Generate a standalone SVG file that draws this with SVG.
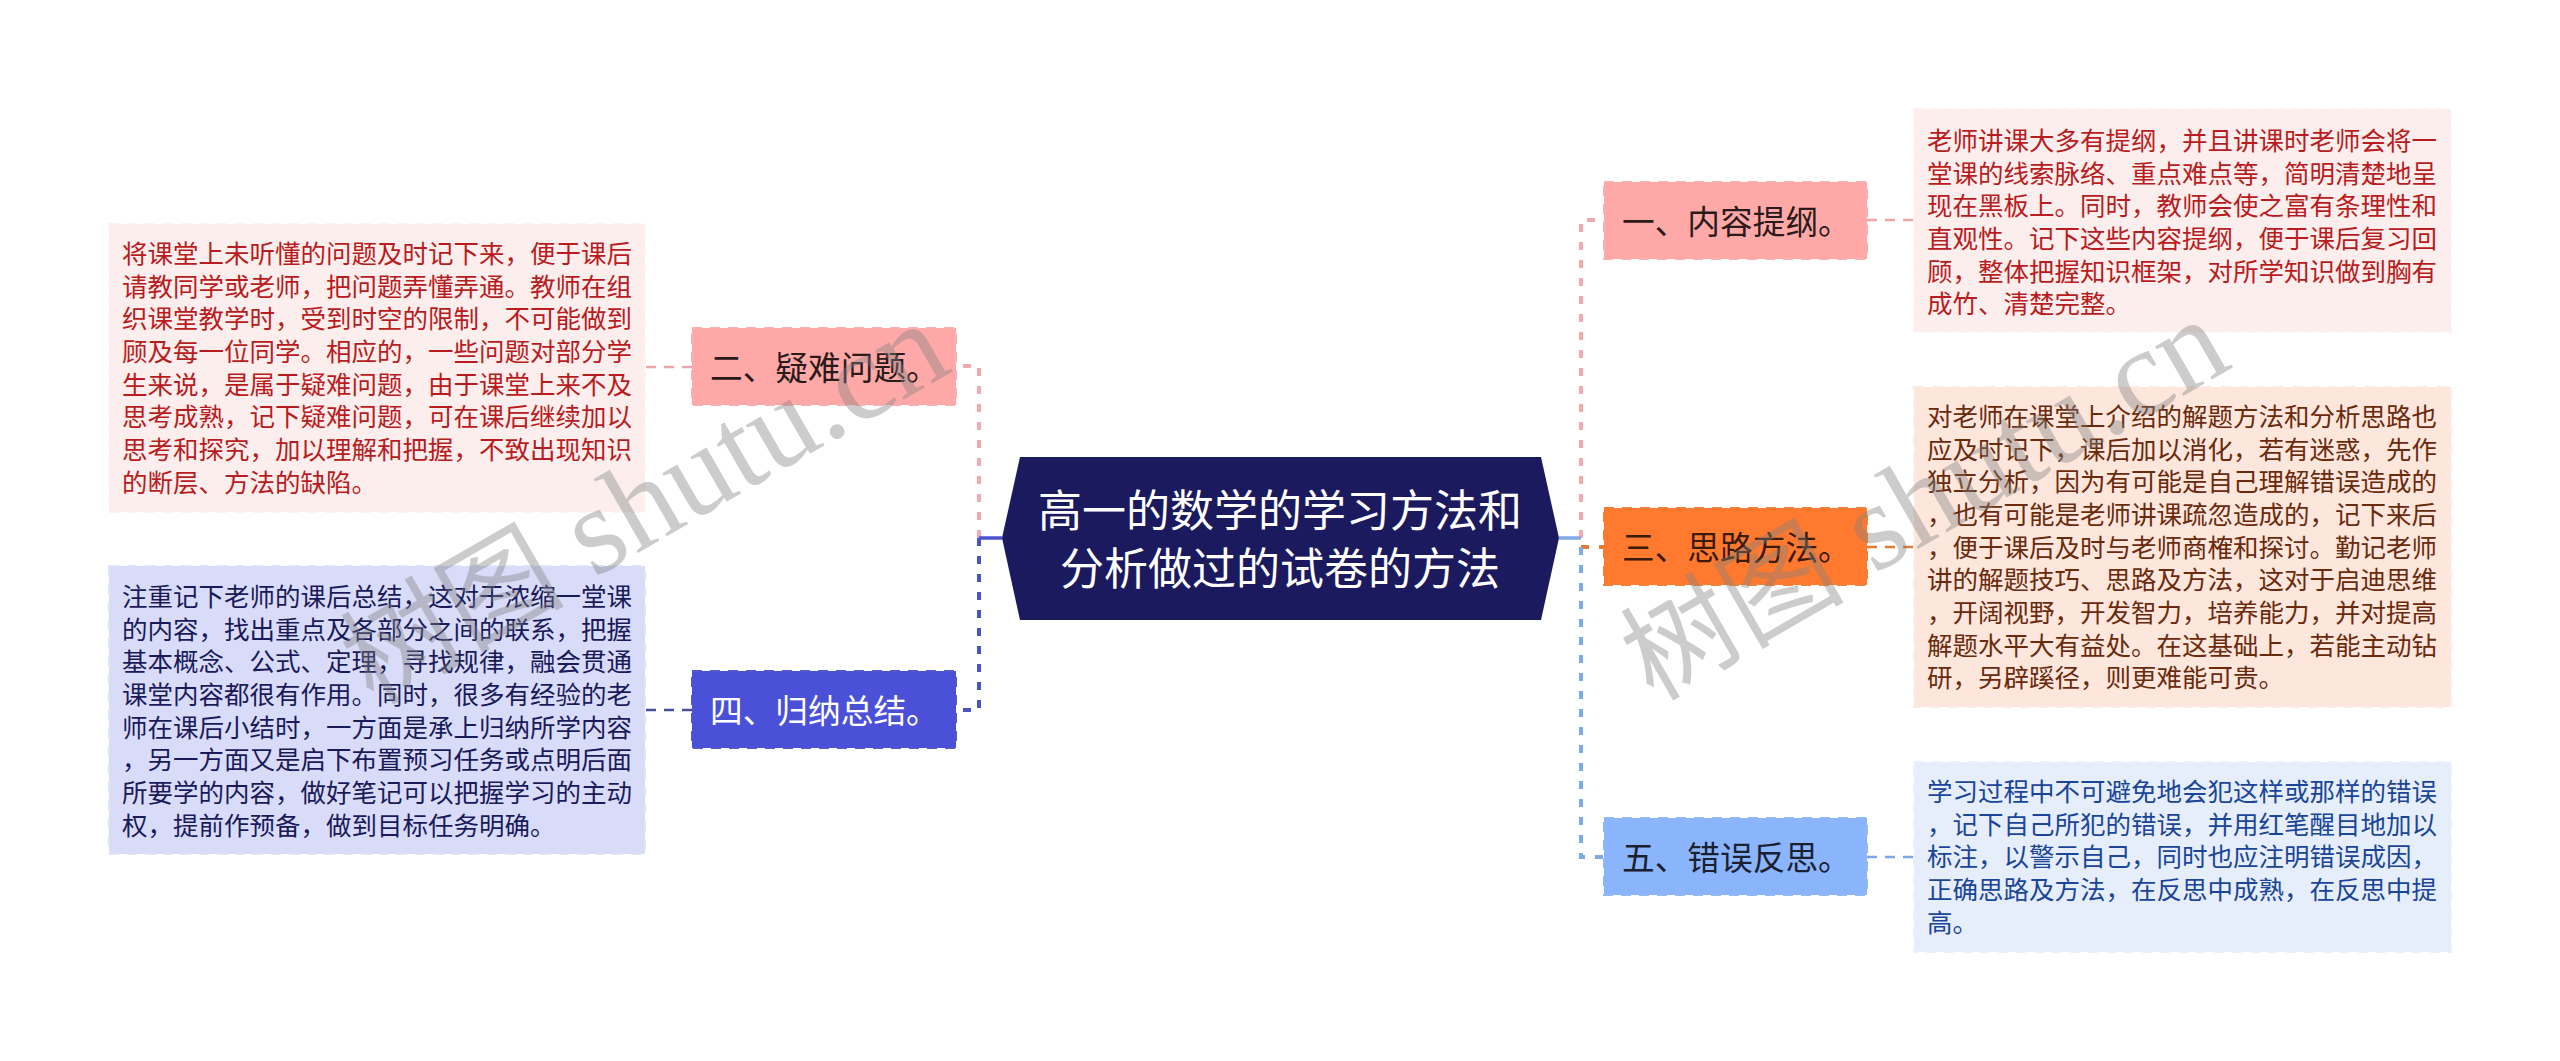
<svg xmlns="http://www.w3.org/2000/svg" width="2560" height="1061" viewBox="0 0 2560 1061">
<style>
text{font-family:"Noto Sans CJK SC","Noto Sans",sans-serif}
.d{font-size:25.5px}
.n{font-size:32.7px}
.t{font-size:44px;fill:#fff;text-anchor:middle}
.box{stroke-width:2;stroke-dasharray:10 8}
.c{fill:none;stroke-width:4;stroke-dasharray:8 10}
.f{fill:none;stroke-width:2.5;stroke-dasharray:10 8}
.w{font-family:"Liberation Serif","Noto Sans CJK SC",serif;font-size:124px;fill:#808080;fill-opacity:.4}
.wc{font-size:112px}
</style>
<rect width="2560" height="1061" fill="#fff"/>
<g id="connectors">
<path class="c" stroke="#f0a9ae" d="M979 538V366H956"/>
<path class="c" stroke="#4a52c4" d="M979 538V710H956"/>
<path d="M1002 538H979" fill="none" stroke="#4a52d0" stroke-width="3.5"/>
<path class="c" stroke="#f0a9ae" d="M1581 538V220H1604"/>
<path class="c" stroke="#e07c36" d="M1581 547H1604"/>
<path class="c" stroke="#7ea9e4" d="M1581 547V857H1604"/>
<path d="M1559 538H1581" fill="none" stroke="#7ea9e4" stroke-width="3.5"/>
<path class="f" stroke="#eda6aa" d="M692 367H645"/>
<path class="f" stroke="#4b4f9a" d="M692 710H645"/>
<path class="f" stroke="#eda6aa" d="M1867 220H1914"/>
<path class="f" stroke="#e07c36" d="M1867 547H1914"/>
<path class="f" stroke="#7ea9e4" d="M1867 857H1914"/>
</g>
<g id="root">
<polygon points="1020,457 1541,457 1559,538 1541,620 1020,620 1002,538" fill="#1c1a5e"/>
<text class="t"><tspan x="1280" y="527">高一的数学的学习方法和</tspan><tspan x="1280" y="585">分析做过的试卷的方法</tspan></text>
</g>
<g id="node2">
<rect class="box" x="692" y="328" width="264" height="77" fill="#ffa8a8" stroke="#f6b0b0"/>
<text class="n" x="710" y="380" fill="#2a1a1a">二、疑难问题。</text>
</g>
<g id="node2-detail">
<rect class="box" x="109" y="224" width="536" height="288" fill="#fdeeee" stroke="#fdf1f1"/>
<text class="d" fill="#b81c20"><tspan x="122" y="263">将课堂上未听懂的问题及时记下来，便于课后</tspan><tspan x="122" y="295.7">请教同学或老师，把问题弄懂弄通。教师在组</tspan><tspan x="122" y="328.4">织课堂教学时，受到时空的限制，不可能做到</tspan><tspan x="122" y="361">顾及每一位同学。相应的，一些问题对部分学</tspan><tspan x="122" y="393.7">生来说，是属于疑难问题，由于课堂上来不及</tspan><tspan x="122" y="426.4">思考成熟，记下疑难问题，可在课后继续加以</tspan><tspan x="122" y="459">思考和探究，加以理解和把握，不致出现知识</tspan><tspan x="122" y="491.7">的断层、方法的缺陷。</tspan></text>
</g>
<g id="node4">
<rect class="box" x="692" y="671" width="264" height="77" fill="#4a50d8" stroke="#5258cc"/>
<text class="n" x="710" y="723" fill="#fff">四、归纳总结。</text>
</g>
<g id="node4-detail">
<rect class="box" x="109" y="566" width="536" height="288" fill="#d9dcf8" stroke="#dfe2f9"/>
<text class="d" fill="#1a1a5a"><tspan x="122" y="606">注重记下老师的课后总结，这对于浓缩一堂课</tspan><tspan x="122" y="638.7">的内容，找出重点及各部分之间的联系，把握</tspan><tspan x="122" y="671.4">基本概念、公式、定理，寻找规律，融会贯通</tspan><tspan x="122" y="704">课堂内容都很有作用。同时，很多有经验的老</tspan><tspan x="122" y="736.7">师在课后小结时，一方面是承上归纳所学内容</tspan><tspan x="122" y="769.4">，另一方面又是启下布置预习任务或点明后面</tspan><tspan x="122" y="802">所要学的内容，做好笔记可以把握学习的主动</tspan><tspan x="122" y="834.7">权，提前作预备，做到目标任务明确。</tspan></text>
</g>
<g id="node1">
<rect class="box" x="1604" y="182" width="263" height="77" fill="#ffa8a8" stroke="#f6b0b0"/>
<text class="n" x="1622" y="234" fill="#2a1a1a">一、内容提纲。</text>
</g>
<g id="node1-detail">
<rect class="box" x="1914" y="109" width="537" height="223" fill="#fdeeee" stroke="#fdf1f1"/>
<text class="d" fill="#b81c20"><tspan x="1927" y="150">老师讲课大多有提纲，并且讲课时老师会将一</tspan><tspan x="1927" y="182.7">堂课的线索脉络、重点难点等，简明清楚地呈</tspan><tspan x="1927" y="215.4">现在黑板上。同时，教师会使之富有条理性和</tspan><tspan x="1927" y="248">直观性。记下这些内容提纲，便于课后复习回</tspan><tspan x="1927" y="280.7">顾，整体把握知识框架，对所学知识做到胸有</tspan><tspan x="1927" y="313.4">成竹、清楚完整。</tspan></text>
</g>
<g id="node3">
<rect class="box" x="1604" y="508" width="263" height="77" fill="#ff7a2e" stroke="#f08038"/>
<text class="n" x="1622" y="560" fill="#3a1a0a">三、思路方法。</text>
</g>
<g id="node3-detail">
<rect class="box" x="1914" y="387" width="537" height="320" fill="#fde6dc" stroke="#fdeae2"/>
<text class="d" fill="#6a2a0c"><tspan x="1927" y="426">对老师在课堂上介绍的解题方法和分析思路也</tspan><tspan x="1927" y="458.7">应及时记下，课后加以消化，若有迷惑，先作</tspan><tspan x="1927" y="491.4">独立分析，因为有可能是自己理解错误造成的</tspan><tspan x="1927" y="524">，也有可能是老师讲课疏忽造成的，记下来后</tspan><tspan x="1927" y="556.7">，便于课后及时与老师商榷和探讨。勤记老师</tspan><tspan x="1927" y="589.4">讲的解题技巧、思路及方法，这对于启迪思维</tspan><tspan x="1927" y="622">，开阔视野，开发智力，培养能力，并对提高</tspan><tspan x="1927" y="654.7">解题水平大有益处。在这基础上，若能主动钻</tspan><tspan x="1927" y="687.4">研，另辟蹊径，则更难能可贵。</tspan></text>
</g>
<g id="node5">
<rect class="box" x="1604" y="818" width="263" height="77" fill="#8ab4fb" stroke="#92b8f6"/>
<text class="n" x="1622" y="870" fill="#1a2030">五、错误反思。</text>
</g>
<g id="node5-detail">
<rect class="box" x="1914" y="762" width="537" height="190" fill="#e6eefc" stroke="#eaf1fd"/>
<text class="d" fill="#1a4598"><tspan x="1927" y="801">学习过程中不可避免地会犯这样或那样的错误</tspan><tspan x="1927" y="833.7">，记下自己所犯的错误，并用红笔醒目地加以</tspan><tspan x="1927" y="866.4">标注，以警示自己，同时也应注明错误成因，</tspan><tspan x="1927" y="899">正确思路及方法，在反思中成熟，在反思中提</tspan><tspan x="1927" y="931.7">高。</tspan></text>
</g>
<g id="watermarks">
<text class="w" transform="translate(373 706) rotate(-30)"><tspan class="wc">树图</tspan> shutu.cn</text>
<text class="w" transform="translate(1653 702) rotate(-30)"><tspan class="wc">树图</tspan> shutu.cn</text>
</g>
</svg>
